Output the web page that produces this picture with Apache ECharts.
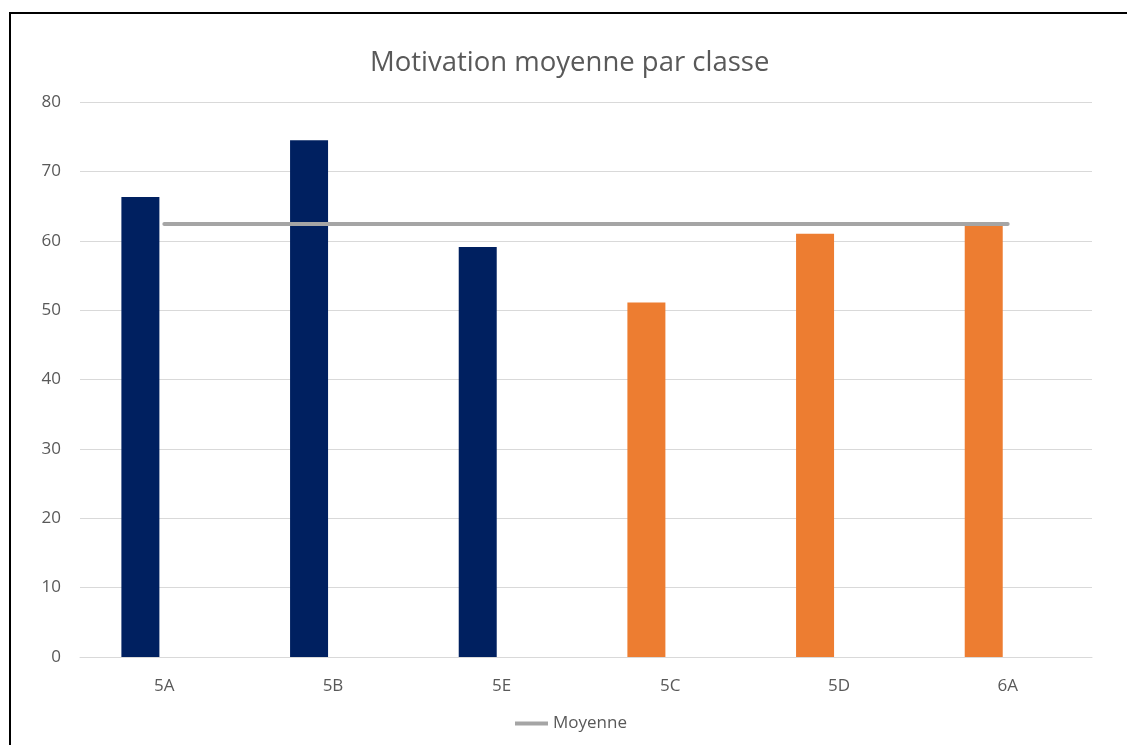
<!DOCTYPE html>
<html>
<head>
<meta charset="utf-8">
<script src="https://cdn.jsdelivr.net/npm/echarts@6/dist/echarts.min.js"></script>
<style>
  html, body { margin: 0; padding: 0; background: #fff; }
  #frame { position: absolute; left: 9px; top: 12px; width: 1200px; height: 800px; border: 2px solid #000; }
  #main { position: absolute; left: 0; top: 0; width: 1127px; height: 745px; }
</style>
</head>
<body>
<div id="frame"></div>
<div id="main"></div>
<script>
// classes, in the order of the picture
var classes = ['5A', '5B', '5E', '5C', '5D', '6A'];
var motivation = [66.3, 74.5, 59.1, 51.1, 61.0, 62.3];
var barColors = ['#002060', '#002060', '#002060', '#ED7D31', '#ED7D31', '#ED7D31'];
var moyenne = [62.4, 62.4, 62.4, 62.4, 62.4, 62.4];
var emptySerie = [null, null, null, null, null, null];
var yTicks = [0, 10, 20, 30, 40, 50, 60, 70, 80];

var chart = echarts.init(document.getElementById('main'), null, { renderer: 'canvas' });

var labelFont = 'Open Sans';

chart.setOption({
  animation: false,
  backgroundColor: 'transparent',
  title: {
    text: 'Motivation moyenne par classe',
    left: 365,
    top: 44,
    textStyle: { fontFamily: labelFont, fontSize: 27.5, fontWeight: 'normal', color: '#595959' }
  },
  legend: {
    data: [{ name: 'Moyenne', icon: 'rect' }],
    left: 510,
    top: 710,
    itemWidth: 33,
    itemHeight: 4,
    itemGap: 4,
    textStyle: { fontFamily: labelFont, fontSize: 17, color: '#595959' }
  },
  grid: { left: 80, right: 35, top: 102, bottom: 88, containLabel: false },
  xAxis: {
    type: 'category',
    data: classes,
    axisLine: { lineStyle: { color: '#d9d9d9', width: 1 } },
    axisTick: { show: false },
    axisLabel: { margin: 21, fontFamily: labelFont, fontSize: 17, color: '#595959' }
  },
  yAxis: {
    type: 'value',
    min: yTicks[0],
    max: yTicks[yTicks.length - 1],
    interval: 10,
    axisLine: { show: false },
    axisTick: { show: false },
    splitLine: { lineStyle: { color: '#d9d9d9', width: 1 } },
    axisLabel: { margin: 19, fontFamily: labelFont, fontSize: 17, color: '#595959' }
  },
  series: [
    {
      name: 'Classe',
      type: 'bar',
      barWidth: 38,
      barGap: '26%',
      data: motivation.map(function (v, i) {
        return { value: v, itemStyle: { color: barColors[i] } };
      })
    },
    {
      name: 'vide',
      type: 'bar',
      barWidth: 38,
      data: emptySerie
    },
    {
      name: 'Moyenne',
      type: 'line',
      data: moyenne,
      symbol: 'none',
      z: 5,
      lineStyle: { color: '#A5A5A5', width: 4, cap: 'round' },
      itemStyle: { color: '#A5A5A5' }
    }
  ]
});
</script>
</body>
</html>
